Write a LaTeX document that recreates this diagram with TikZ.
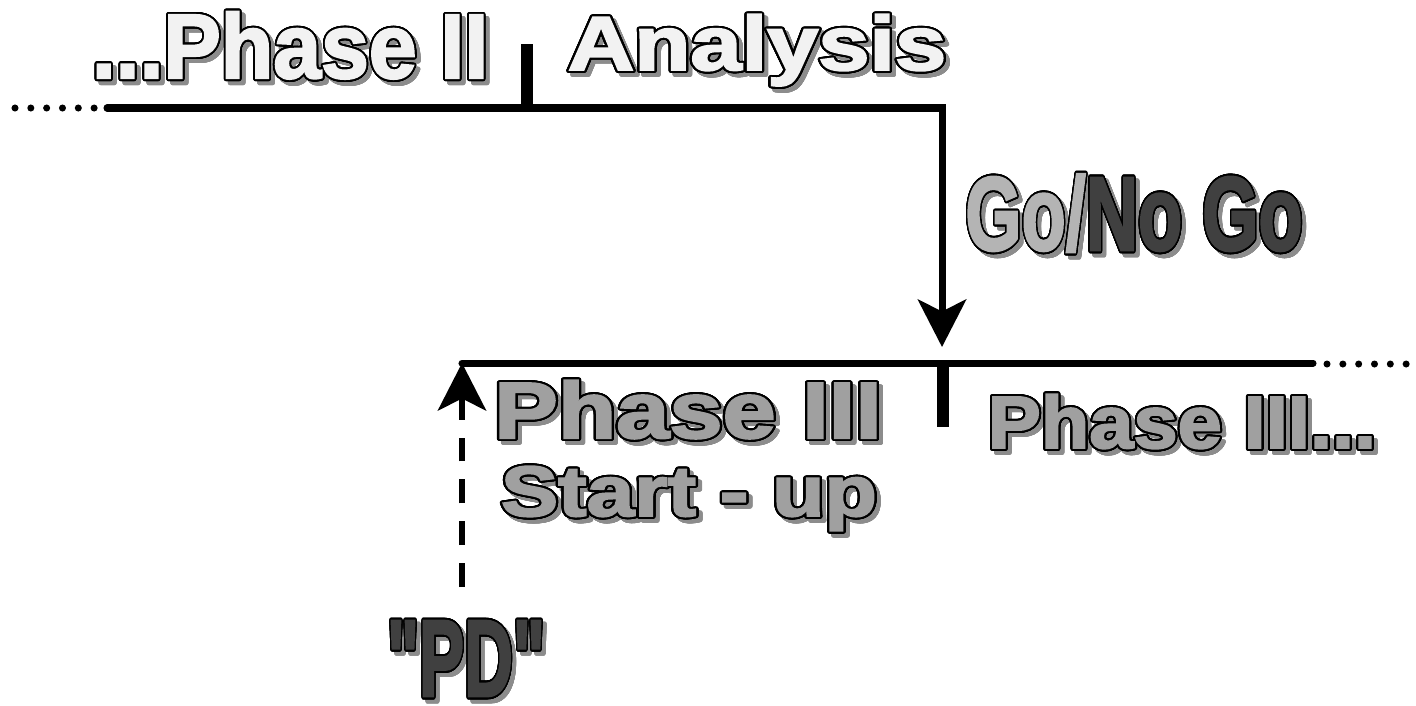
\documentclass[tikz,border=0pt]{standalone}
\usepackage{fontspec}
\newfontfamily\heavyfont{Liberation Sans}[BoldFeatures={FakeBold=2.5}]
\usepackage[copies]{contour}
\contourlength{0.55pt}
\contournumber{32}
\usetikzlibrary{arrows.meta}

\definecolor{paleface}{HTML}{F2F2F2}
\definecolor{midface}{HTML}{A0A0A0}
\definecolor{lightface}{HTML}{B4B4B4}
\definecolor{darkface}{HTML}{404040}
\definecolor{shadowgrey}{HTML}{8C8C8C}

% Outlined, drop-shadowed heading text.
% #1 node name, #2 base point (x,y), #3 font size, #4 horizontal scale, #5 face colour, #6 text
\newcommand\shadowlabel[6]{%
  \node[labeltext, font=\heavyfont\bfseries\fontsize{#3}{#3}\selectfont, text=shadowgrey]
    (#1-shadow) at ([shift={(4,4)}]#2) {\scalebox{#4}[1]{\contour{shadowgrey}{#6}}};
  \node[labeltext, font=\heavyfont\bfseries\fontsize{#3}{#3}\selectfont, text=#5]
    (#1) at (#2) {\scalebox{#4}[1]{\contour{black}{#6}}};
}

\begin{document}
\begin{tikzpicture}[x=0.01cm, y=-0.01cm,
  rule/.style={line width=2pt, line cap=round},
  tickmark/.style={line width=3.3pt},
  dotrun/.style={line width=2pt, line cap=round, dash pattern=on 0pt off 4.5pt},
  bigtip/.style={-{Stealth[length=13.5pt, width=13.7pt, inset=3.4pt]}},
  dashrule/.style={line width=1.7pt, dash pattern=on 6.8pt off 5.1pt},
  labeltext/.style={inner sep=0pt, anchor=base}]
\useasboundingbox (0,0) rectangle (1416,705);

% key points of the time line
\coordinate (leftDots) at (15,108);
\coordinate (leftDotsEnd) at (95,108);
\coordinate (topStart) at (107,108);
\coordinate (topCorner) at (942,108);
\coordinate (goTip) at (942,347);
\coordinate (tickBaseA) at (527,108);
\coordinate (tickTopA) at (527,44);
\coordinate (lowStart) at (462,363);
\coordinate (lowEnd) at (1313,363);
\coordinate (rightDots) at (1327,364);
\coordinate (rightDotsEnd) at (1408,364);
\coordinate (tickBaseB) at (943,363);
\coordinate (tickLowB) at (943,427);
\coordinate (pdStart) at (462,587);

% labels
\shadowlabel{phaseTwo}{290,78}{26pt}{0.94}{paleface}{...Phase II}
\shadowlabel{analysis}{757,70}{21.8pt}{1.2}{paleface}{Analysis}
\shadowlabel{phaseThree}{688,438}{22.65pt}{1.2}{midface}{Phase III}
\shadowlabel{startUp}{689,516}{20.3pt}{1.2}{midface}{Start - up}
\shadowlabel{phaseThreeOn}{1182,448}{21.1pt}{1.07}{midface}{Phase III...}
\shadowlabel{pd}{466,696}{31pt}{0.62}{darkface}{"PD"}

\node[labeltext, font=\heavyfont\bfseries\fontsize{29.8pt}{29.8pt}\selectfont, text=shadowgrey]
  (gonogo-shadow) at (1138,254) {\scalebox{0.69}[1]{\contour{shadowgrey}{Go/No Go}}};
\node[labeltext, font=\heavyfont\bfseries\fontsize{29.8pt}{29.8pt}\selectfont]
  (gonogo) at (1134,250) {\scalebox{0.69}[1]{\textcolor{lightface}{\contour{black}{Go/}}\textcolor{darkface}{\contour{black}{No Go}}}};

% Phase II line, turning down into the decision arrow
\draw[dotrun] (leftDots) -- (leftDotsEnd);
\draw[rule, bigtip] (topStart) -- (topCorner) -- (goTip);
\draw[tickmark] (tickBaseA) -- (tickTopA);

% Phase III line
\draw[rule] (lowStart) -- (lowEnd);
\draw[dotrun] (rightDots) -- (rightDotsEnd);
\draw[tickmark] (tickBaseB) -- (tickLowB);

% dashed arrow from "PD" up to the start of Phase III
\draw[dashrule, bigtip] (pdStart) -- (lowStart);
\end{tikzpicture}
\end{document}
